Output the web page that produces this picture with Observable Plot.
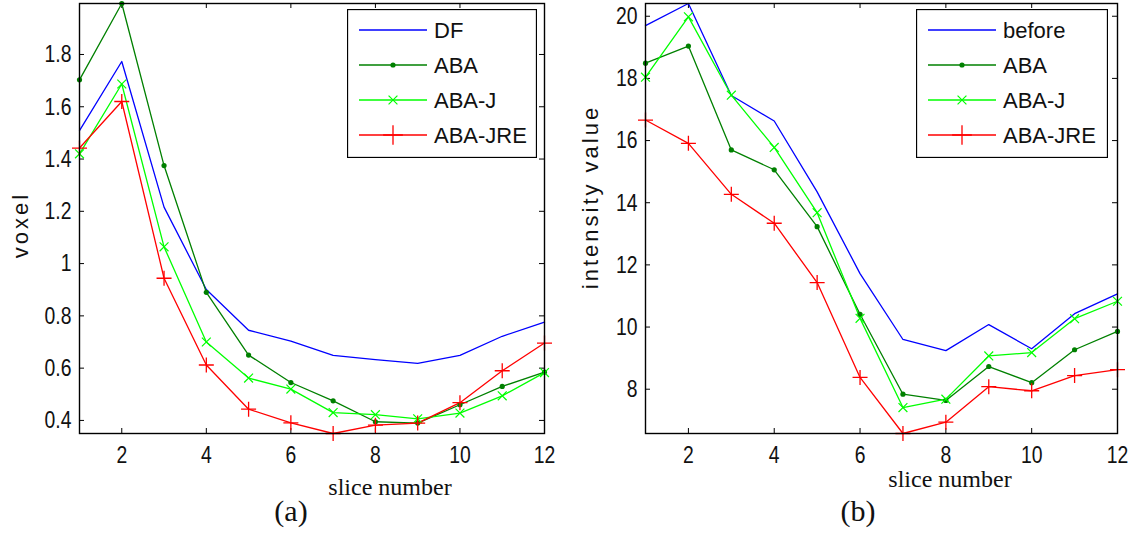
<!DOCTYPE html>
<html>
<head>
<meta charset="utf-8">
<script src="https://cdn.jsdelivr.net/npm/d3@7"></script>
<script src="https://cdn.jsdelivr.net/npm/@observablehq/plot@0.6"></script>
<style>
  body { margin: 0; background: #fff; }
  #fig { position: relative; width: 1141px; height: 535px; background: #fff; overflow: hidden; }
  .panel { position: absolute; top: 0; }
  .lbl { position: absolute; white-space: nowrap; color: #111; }
  .serif { font-family: "Liberation Serif", "Times New Roman", serif; }
  .sans { font-family: "Liberation Sans", Arial, sans-serif; }
  .legend { position: absolute; }
</style>
</head>
<body>
<div id="fig">
  <div id="panelA" class="panel" style="left:0px"></div>
  <div id="panelB" class="panel" style="left:570px"></div>
  <div class="lbl sans" style="left:21px; top:225px; font-size:22px; line-height:22px; letter-spacing:3px; transform:translate(-50%,-50%) rotate(-90deg);">voxel</div>
  <div class="lbl sans" style="left:591px; top:197px; font-size:22px; line-height:22px; letter-spacing:3px; transform:translate(-50%,-50%) rotate(-90deg);">intensity value</div>
  <div class="lbl serif" style="left:390px; top:475px; font-size:24px; line-height:24px; transform:translateX(-50%);">slice number</div>
  <div class="lbl serif" style="left:950px; top:467px; font-size:24px; line-height:24px; transform:translateX(-50%);">slice number</div>
  <div class="lbl serif" style="left:291px; top:496px; font-size:30px; line-height:30px; transform:translateX(-50%);">(a)</div>
  <div class="lbl serif" style="left:858px; top:496px; font-size:30px; line-height:30px; transform:translateX(-50%);">(b)</div>
</div>
<script>
// ---- data ----
const slices = [1, 2, 3, 4, 5, 6, 7, 8, 9, 10, 11, 12];
const xTicks = [2, 4, 6, 8, 10, 12];

const voxelSeries = ["DF", "ABA", "ABA-J", "ABA-JRE"];
const voxelDF     = [1.509, 1.773, 1.216, 0.901, 0.745, 0.703, 0.649, 0.633, 0.618, 0.649, 0.722, 0.776];
const voxelABA    = [1.703, 1.995, 1.375, 0.890, 0.650, 0.545, 0.475, 0.395, 0.390, 0.460, 0.530, 0.585];
const voxelABAJ   = [1.420, 1.687, 1.064, 0.700, 0.562, 0.520, 0.430, 0.422, 0.406, 0.428, 0.494, 0.583];
const voxelABAJRE = [1.442, 1.620, 0.944, 0.612, 0.443, 0.391, 0.350, 0.382, 0.390, 0.468, 0.590, 0.696];
const voxelTicks  = [0.4, 0.6, 0.8, 1, 1.2, 1.4, 1.6, 1.8];

const intensitySeries = ["before", "ABA", "ABA-J", "ABA-JRE"];
const intBefore  = [19.70, 20.41, 17.45, 16.63, 14.35, 11.72, 9.60, 9.24, 10.08, 9.30, 10.43, 11.07];
const intABA     = [18.49, 19.04, 15.70, 15.06, 13.23, 10.41, 7.84, 7.64, 8.73, 8.21, 9.27, 9.86];
const intABAJ    = [18.04, 19.98, 17.46, 15.78, 13.68, 10.28, 7.41, 7.68, 9.07, 9.18, 10.27, 10.83];
const intABAJRE  = [16.66, 15.91, 14.27, 13.34, 11.43, 8.38, 6.575, 6.94, 8.08, 7.95, 8.44, 8.63];
const intensityTicks = [8, 10, 12, 14, 16, 18, 20];

const seriesColors  = ["#0000ff", "#008000", "#00ff00", "#ff0000"];
const seriesMarkers = ["none", "dot", "times", "plus"];

// ---- helpers ----
function toRows(names, arrays) {
  const rows = [];
  names.forEach((name, k) => {
    arrays[k].forEach((v, i) => rows.push({slice: slices[i], value: v, series: name, marker: seriesMarkers[k]}));
  });
  return rows;
}

const H = 470, MT = 3, MB = 37;
const FONT = "'Liberation Sans', Arial, sans-serif";

function panel(el, {names, arrays, yTicks, width, marginLeft, marginRight}) {
  const rows = toRows(names, arrays);
  const innerH = H - MT - MB;
  const innerW = width - marginLeft - marginRight;
  const tickLen = 5;
  const chart = Plot.plot({
    width, height: H, marginLeft, marginRight, marginTop: MT, marginBottom: MB,
    style: {fontFamily: FONT, fontSize: "22px", color: "#111", background: "transparent", overflow: "visible"},
    x: {domain: d3.extent(slices)},
    y: {domain: d3.extent(rows, d => d.value)},
    color: {domain: names, range: seriesColors},
    marks: [
      // inward ticks on all four sides (MATLAB box)
      Plot.tickX(xTicks, {x: d => d, insetTop: innerH - tickLen, stroke: "#000", strokeWidth: 1}),
      Plot.tickX(xTicks, {x: d => d, insetBottom: innerH - tickLen, stroke: "#000", strokeWidth: 1}),
      Plot.tickY(yTicks, {y: d => d, insetRight: innerW - tickLen, stroke: "#000", strokeWidth: 1}),
      Plot.tickY(yTicks, {y: d => d, insetLeft: innerW - tickLen, stroke: "#000", strokeWidth: 1}),
      Plot.axisX({ticks: xTicks, tickSize: 0, tickPadding: 12, label: null, fontSize: 22, tickFormat: d => String(d)}),
      Plot.axisY({ticks: yTicks, tickSize: 0, tickPadding: 8, label: null, fontSize: 22, tickFormat: d => String(d)}),
      Plot.line(rows, {x: "slice", y: "value", z: "series", stroke: "series", strokeWidth: 1.3}),
      Plot.dot(rows.filter(d => d.marker === "dot"), {x: "slice", y: "value", fill: "series", r: 2.6}),
      Plot.dot(rows.filter(d => d.marker === "times"), {x: "slice", y: "value", stroke: "series", symbol: "times", r: 4.1, strokeWidth: 1.2}),
      Plot.dot(rows.filter(d => d.marker === "plus"), {x: "slice", y: "value", stroke: "series", symbol: "plus", r: 4.9, strokeWidth: 1.3}),
      Plot.frame({stroke: "#000", strokeWidth: 1.4})
    ]
  });
  chart.querySelectorAll('g[aria-label$="tick label"] text').forEach(t => {
    t.setAttribute("transform", (t.getAttribute("transform") || "") + " scale(0.88,1.12)");
  });
  el.appendChild(chart);
}

function legend(left, top, width, names) {
  const h = 149, rowGap = 35, y0 = 21;
  const svg = d3.select("#fig").append("svg")
    .attr("class", "legend")
    .style("left", left + "px").style("top", top + "px")
    .attr("width", width).attr("height", h);
  svg.append("rect").attr("x", 0.5).attr("y", 0.5).attr("width", width - 1).attr("height", h - 1)
    .attr("fill", "#fff").attr("stroke", "#000").attr("stroke-width", 1.3);
  names.forEach((name, i) => {
    const y = y0 + rowGap * i;
    const g = svg.append("g");
    g.append("line").attr("x1", 12).attr("x2", 80).attr("y1", y).attr("y2", y)
      .attr("stroke", seriesColors[i]).attr("stroke-width", 1.3);
    const m = seriesMarkers[i];
    if (m === "dot") {
      g.append("circle").attr("cx", 46).attr("cy", y).attr("r", 2.6).attr("fill", seriesColors[i]);
    } else if (m === "times") {
      g.append("path").attr("transform", `translate(46,${y})`)
        .attr("d", d3.symbol(d3.symbolTimes, Math.PI * 4.1 * 4.1)())
        .attr("fill", "none").attr("stroke", seriesColors[i]).attr("stroke-width", 1.2);
    } else if (m === "plus") {
      g.append("path").attr("transform", `translate(46,${y})`)
        .attr("d", d3.symbol(d3.symbolPlus, Math.PI * 6.4 * 6.4)())
        .attr("fill", "none").attr("stroke", seriesColors[i]).attr("stroke-width", 1.3);
    }
    g.append("text").attr("x", 87).attr("y", y + 8)
      .attr("font-family", FONT).attr("font-size", 22).attr("fill", "#111")
      .text(name);
  });
}

panel(document.getElementById("panelA"), {
  names: voxelSeries, arrays: [voxelDF, voxelABA, voxelABAJ, voxelABAJRE],
  yTicks: voxelTicks, width: 570, marginLeft: 79, marginRight: 26
});
panel(document.getElementById("panelB"), {
  names: intensitySeries, arrays: [intBefore, intABA, intABAJ, intABAJRE],
  yTicks: intensityTicks, width: 571, marginLeft: 75, marginRight: 24
});
legend(347, 9, 190, voxelSeries);
legend(916, 9, 192, intensitySeries);
</script>
</body>
</html>
